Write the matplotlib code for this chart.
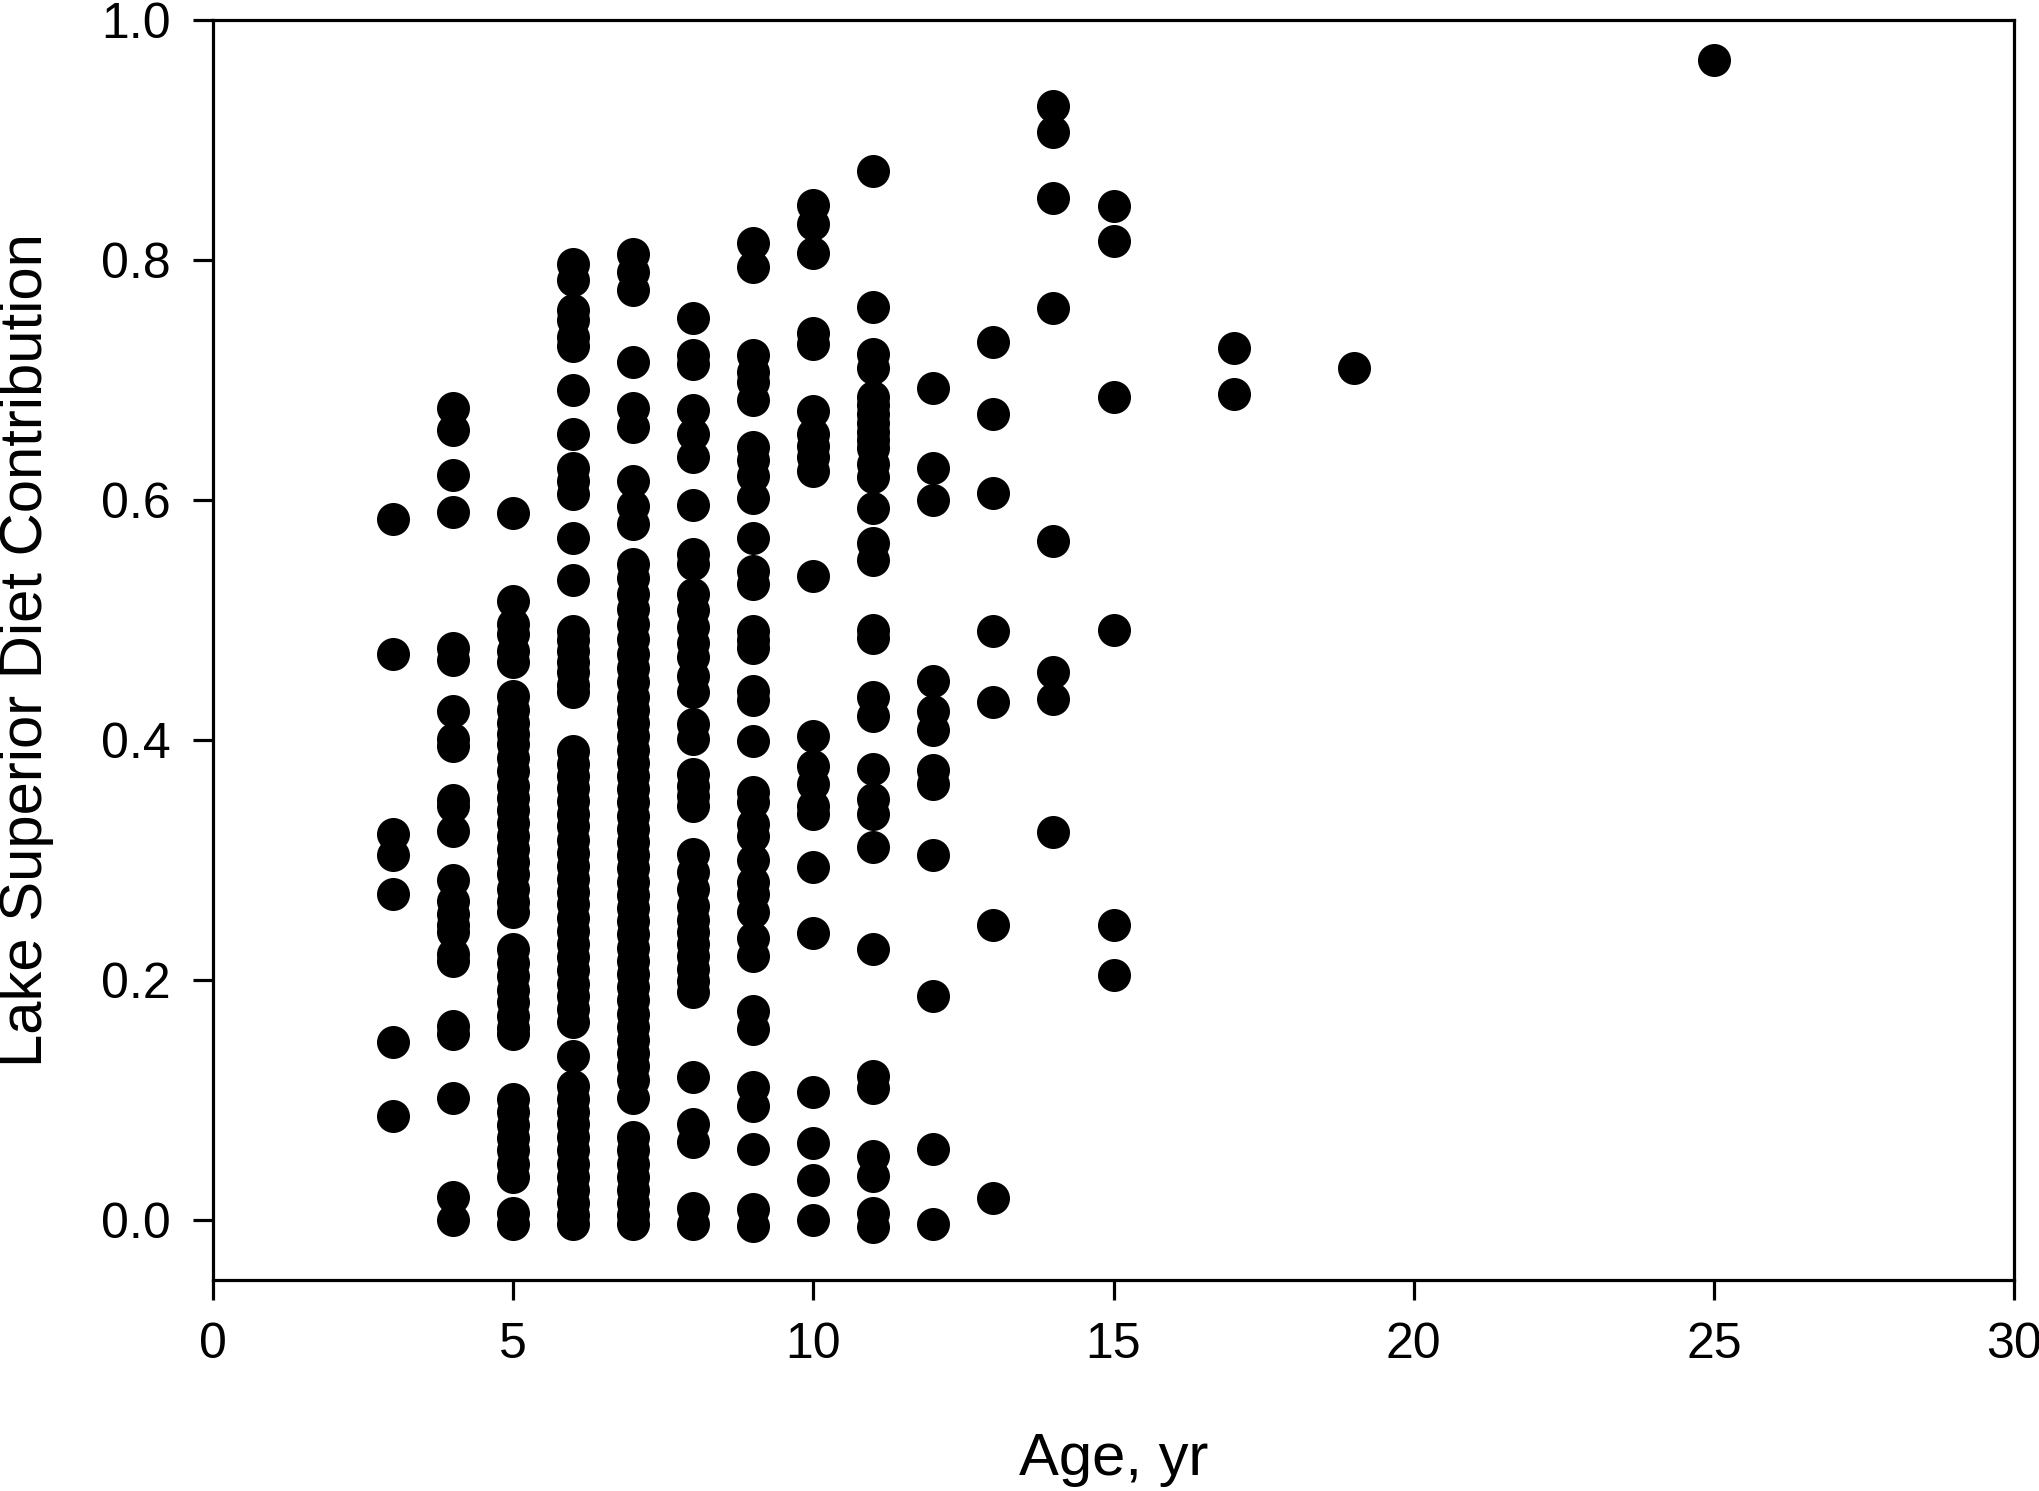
import numpy as np
import matplotlib
matplotlib.use("Agg")
import matplotlib.pyplot as plt

plt.rcParams['font.family'] = ['Liberation Sans', 'DejaVu Sans']

# Lake Superior diet contribution, grouped by fish age (yr)
age3 = [0.584, 0.472, 0.322, 0.304, 0.272, 0.148, 0.087]
age4 = [0.677, 0.658, 0.621, 0.590, 0.477, 0.467, 0.424, 0.401, 0.395, 0.350,
        0.345, 0.324, 0.283, 0.266, 0.255, 0.246, 0.240, 0.222, 0.216, 0.162,
        0.155, 0.102, 0.019, 0.000]
age5 = [0.589, 0.516, 0.497, 0.488, 0.474, 0.465, 0.437, 0.425, 0.414, 0.405,
        0.397, 0.385, 0.374, 0.362, 0.352, 0.342, 0.331, 0.320, 0.309, 0.298,
        0.288, 0.276, 0.265, 0.257, 0.226, 0.214, 0.203, 0.192, 0.182, 0.170,
        0.160, 0.155, 0.101, 0.090, 0.079, 0.068, 0.058, 0.047, 0.036, 0.006,
        -0.003]
age6 = [0.797, 0.783, 0.758, 0.750, 0.736, 0.728, 0.692, 0.655, 0.627, 0.616,
        0.605, 0.568, 0.533, 0.491, 0.483, 0.474, 0.465, 0.457, 0.446, 0.440,
        0.391, 0.380, 0.370, 0.360, 0.349, 0.338, 0.328, 0.317, 0.306, 0.295,
        0.284, 0.273, 0.263, 0.252, 0.241, 0.230, 0.219, 0.208, 0.197, 0.187,
        0.176, 0.165, 0.137, 0.112, 0.101, 0.090, 0.080, 0.069, 0.058, 0.047,
        0.036, 0.025, 0.014, 0.004, -0.003]
age7 = [0.805, 0.790, 0.775, 0.715, 0.677, 0.661, 0.616, 0.595, 0.580, 0.547,
        0.535, 0.522, 0.509, 0.497, 0.484, 0.472, 0.460, 0.448, 0.436, 0.425,
        0.414, 0.403, 0.392, 0.381, 0.370, 0.359, 0.348, 0.337, 0.326, 0.315,
        0.304, 0.293, 0.282, 0.271, 0.260, 0.249, 0.238, 0.227, 0.216, 0.205,
        0.194, 0.183, 0.172, 0.161, 0.150, 0.139, 0.128, 0.117, 0.102, 0.069,
        0.058, 0.047, 0.036, 0.025, 0.014, 0.004, -0.003]
age8 = [0.752, 0.721, 0.713, 0.675, 0.655, 0.636, 0.596, 0.555, 0.547, 0.522,
        0.508, 0.494, 0.481, 0.469, 0.453, 0.440, 0.413, 0.401, 0.372, 0.362,
        0.353, 0.345, 0.305, 0.290, 0.276, 0.262, 0.250, 0.240, 0.230, 0.220,
        0.209, 0.199, 0.190, 0.119, 0.080, 0.065, 0.010, -0.003]
age9 = [0.814, 0.794, 0.721, 0.707, 0.698, 0.683, 0.644, 0.633, 0.620, 0.602,
        0.568, 0.541, 0.530, 0.491, 0.483, 0.477, 0.441, 0.433, 0.399, 0.357,
        0.348, 0.330, 0.320, 0.300, 0.282, 0.272, 0.257, 0.235, 0.220, 0.174,
        0.159, 0.111, 0.095, 0.059, 0.009, -0.005]
age10 = [0.846, 0.830, 0.806, 0.739, 0.730, 0.674, 0.655, 0.645, 0.636, 0.624,
         0.537, 0.403, 0.378, 0.363, 0.345, 0.338, 0.294, 0.239, 0.107, 0.064,
         0.033, 0.000]
age11 = [0.874, 0.761, 0.722, 0.710, 0.686, 0.679, 0.672, 0.664, 0.657, 0.650,
         0.643, 0.630, 0.619, 0.593, 0.564, 0.550, 0.492, 0.485, 0.436, 0.420,
         0.376, 0.351, 0.338, 0.311, 0.226, 0.120, 0.110, 0.053, 0.037, 0.006,
         -0.006]
age12 = [0.693, 0.627, 0.600, 0.449, 0.424, 0.408, 0.375, 0.363, 0.304, 0.187,
         0.059, -0.003]
age13 = [0.732, 0.672, 0.606, 0.491, 0.432, 0.246, 0.018]
age14 = [0.928, 0.907, 0.852, 0.760, 0.566, 0.457, 0.434, 0.323]
age15 = [0.845, 0.816, 0.686, 0.492, 0.246, 0.204]
age17 = [0.727, 0.688]
age19 = [0.710]
age25 = [0.967]

ages = [3, 4, 5, 6, 7, 8, 9, 10, 11, 12, 13, 14, 15, 17, 19, 25]
groups = [age3, age4, age5, age6, age7, age8, age9, age10, age11, age12,
          age13, age14, age15, age17, age19, age25]

x = np.concatenate([[a] * len(g) for a, g in zip(ages, groups)])
y = np.concatenate(groups)

fig = plt.figure(figsize=(20.4, 14.91), dpi=100)
ax = fig.add_axes([0.1044, 0.1415, 0.8829, 0.8451])

ax.scatter(x, y, s=565, c="black", linewidths=0, zorder=3)

ax.set_xlim(0, 30)
ax.set_ylim(-0.05, 1.0)
ax.set_xticks([0, 5, 10, 15, 20, 25, 30])
ax.set_yticks([0.0, 0.2, 0.4, 0.6, 0.8, 1.0])
ax.set_yticklabels(["0.0", "0.2", "0.4", "0.6", "0.8", "1.0"])

for sp in ax.spines.values():
    sp.set_linewidth(2.3)
ax.tick_params(direction="out", length=14.5, width=2.3, labelsize=36, pad=16,
               top=False, right=False)

ax.set_xlabel("Age, yr", fontsize=43)
ax.set_ylabel("Lake Superior Diet Contribution", fontsize=43)
ax.xaxis.set_label_coords(0.5, -0.121)
ax.yaxis.set_label_coords(-0.0885, 0.5)

fig.savefig("out.png", dpi=100)
